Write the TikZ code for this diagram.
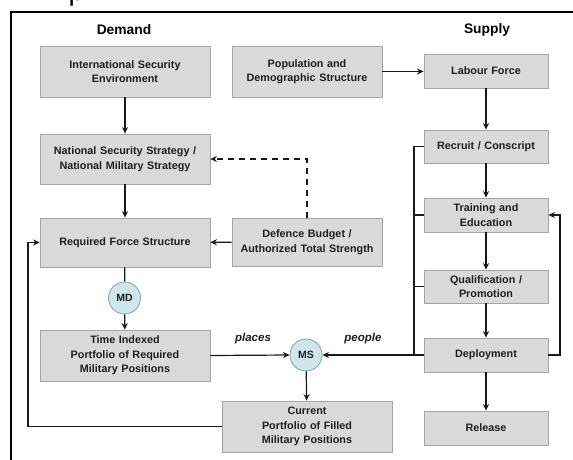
\documentclass[tikz,border=0pt]{standalone}
\usepackage{fontspec}
\setmainfont{Liberation Sans}
\usetikzlibrary{arrows.meta,calc}
\definecolor{boxfill}{RGB}{217,217,217}
\definecolor{boxline}{RGB}{165,165,165}
\definecolor{circfill}{RGB}{205,231,236}
\definecolor{circline}{RGB}{130,160,165}
\definecolor{txt}{RGB}{30,30,30}
\begin{document}
\begin{tikzpicture}[x=1pt,y=-1pt,
  box/.style={draw=boxline,fill=boxfill,line width=0.8pt,inner sep=0pt,
    text width=#1,align=center,font=\fontsize{10.8}{14.5}\selectfont\bfseries,text=txt},
  wbox/.style={box=160pt,minimum width=170pt,minimum height=50pt},
  mbox/.style={box=145pt,minimum width=150pt,minimum height=50pt},
  sbox/.style={box=118pt,minimum width=124pt,minimum height=34pt},
  circ/.style={circle,draw=circline,fill=circfill,line width=0.8pt,minimum size=32pt,inner sep=0pt,
    font=\fontsize{10.5}{12}\selectfont\bfseries,text=txt},
  conn/.style={line width=1.2pt,draw=black!90},
  arr/.style={conn,-{Stealth[length=6.5pt,width=6pt]}},
  head/.style={font=\fontsize{13.8}{16}\selectfont\bfseries},
  lab/.style={font=\fontsize{11.5}{13}\selectfont\itshape\bfseries,text=txt}
]
\useasboundingbox (0,0) rectangle (573,460);
\fill[white] (0,0) rectangle (573,460);
% caption fragment
\node[anchor=base west,inner sep=0pt,font=\fontsize{28}{30}\selectfont\rmfamily] (frag) at (68.5,0.5) {p};
% frame
\draw[line width=1.4pt] (573,12) -- (11,12) -- (11,460);
% headings
\node[head] (dem) at (124,30) {Demand};
\node[head] (sup) at (487,30) {Supply};
% demand boxes
\node[wbox,minimum height=51pt] (ise) at (125,71.5) {International Security\\Environment};
\node[wbox] (nss) at (125,159) {National Security Strategy /\\National Military Strategy};
\node[wbox,minimum height=49pt] (rfs) at (125,242.5) {Required Force Structure};
\node[wbox,minimum height=51pt] (ti) at (125,355.5) {Time Indexed\\Portfolio of Required\\Military Positions};
\node[mbox,minimum height=51pt] (pop) at (307,71.5) {Population and\\Demographic Structure};
\node[mbox,minimum height=48pt] (def) at (307,242) {Defence Budget /\\Authorized Total Strength};
\node[wbox,minimum height=51pt] (cur) at (307,426.5) {Current\\Portfolio of Filled\\Military Positions};
% supply boxes
\node[sbox] (lab) at (486,71) {Labour Force};
\node[sbox,minimum height=33pt] (rec) at (486,146.5) {Recruit / Conscript};
\node[sbox] (tra) at (486,215) {Training and\\Education};
\node[sbox,minimum height=33pt] (qua) at (486,286.5) {Qualification /\\Promotion};
\node[sbox] (dep) at (486,355) {Deployment};
\node[sbox] (rel) at (486,428) {Release};
% circles
\node[circ] (md) at (124.5,298) {MD};
\node[circ] (ms) at (306,355) {MS};
% helper coordinates
\coordinate (fbx) at (28,0);
\coordinate (bx) at (414,0);
\coordinate (rx) at (560,0);
% demand connectors
\draw[arr] (ise) -- (nss);
\draw[arr] (nss) -- (rfs);
\draw[conn] (rfs) -- (md);
\draw[arr] (md) -- (ti);
\draw[arr] (def) -- (rfs);
\draw[arr,dashed,dash pattern=on 6pt off 5pt] (def.north) |- (nss.east);
\draw[arr] (ti.east) -- node[lab,above=7pt,xshift=3pt] (plc) {places} (ms.west);
\draw[arr] (ms) -- (cur);
\draw[arr] (cur.west) -- (cur.west -| fbx) |- (rfs.west);
% supply connectors
\draw[arr] (pop.east) -- (lab.west |- pop.east);
\draw[arr] (lab) -- (rec);
\draw[arr] (rec) -- (tra);
\draw[arr] (tra) -- (qua);
\draw[arr] (qua) -- (dep);
\draw[arr] (dep) -- (rel);
\draw[conn] (rec.west) -- (rec.west -| bx) -- (dep.west -| bx);
\draw[conn] (tra.west) -- (tra.west -| bx);
\draw[conn] (qua.west) -- (qua.west -| bx);
\draw[arr] (dep.west) -- node[lab,above=7pt,xshift=-10pt] (ppl) {people} (ms.east);
\draw[arr] (dep.east) -- (dep.east -| rx) |- (tra.east);
\end{tikzpicture}
\end{document}
